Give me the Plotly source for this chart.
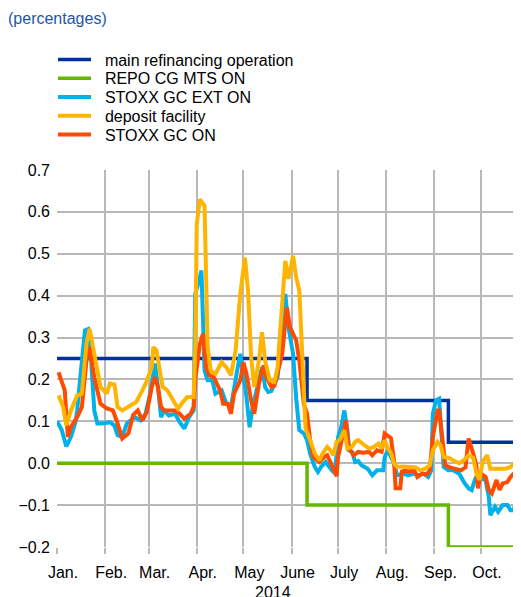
import plotly.graph_objects as go

# ---------------- data ----------------
month_ticks = ["2014-01-01", "2014-02-01", "2014-03-01", "2014-04-01", "2014-05-01",
               "2014-06-01", "2014-07-01", "2014-08-01", "2014-09-01", "2014-10-01"]
month_labels = ["Jan.", "Feb.", "Mar.", "Apr.", "May", "June", "July", "Aug.", "Sep.", "Oct."]
year_label = "2014"

policy_dates = ["2014-01-01", "2014-06-11", "2014-09-10", "2014-10-27"]
mro_rate = [0.25, 0.15, 0.05, 0.05]
repo_cg_mts = [0.0, -0.10, -0.20, -0.20]

stoxx_ext_dates = [
    "2014-01-01", "2014-01-04", "2014-01-07", "2014-01-10", "2014-01-13", "2014-01-14",
    "2014-01-16", "2014-01-19", "2014-01-21", "2014-01-23", "2014-01-25", "2014-01-27",
    "2014-01-30", "2014-02-04", "2014-02-07", "2014-02-09", "2014-02-12", "2014-02-15",
    "2014-02-20", "2014-02-24", "2014-02-27", "2014-03-02", "2014-03-04", "2014-03-05",
    "2014-03-07", "2014-03-09", "2014-03-11", "2014-03-14", "2014-03-18", "2014-03-21",
    "2014-03-24", "2014-03-27", "2014-03-30", "2014-03-31", "2014-04-03", "2014-04-04",
    "2014-04-06", "2014-04-08", "2014-04-11", "2014-04-13", "2014-04-17", "2014-04-20",
    "2014-04-23", "2014-04-25", "2014-04-27", "2014-04-29", "2014-05-01", "2014-05-03",
    "2014-05-05", "2014-05-07", "2014-05-11", "2014-05-13", "2014-05-15", "2014-05-17",
    "2014-05-19", "2014-05-23", "2014-05-25", "2014-05-28", "2014-05-30", "2014-06-02",
    "2014-06-04", "2014-06-06", "2014-06-09", "2014-06-11", "2014-06-13", "2014-06-16",
    "2014-06-18", "2014-06-20", "2014-06-23", "2014-06-25", "2014-06-27", "2014-06-29",
    "2014-07-01", "2014-07-03", "2014-07-05", "2014-07-07", "2014-07-08", "2014-07-10",
    "2014-07-12", "2014-07-14", "2014-07-16", "2014-07-20", "2014-07-23", "2014-07-26",
    "2014-07-30", "2014-07-31", "2014-08-02", "2014-08-04", "2014-08-06", "2014-08-08",
    "2014-08-12", "2014-08-15", "2014-08-19", "2014-08-22", "2014-08-25", "2014-08-28",
    "2014-08-30", "2014-08-31", "2014-09-02", "2014-09-04", "2014-09-05", "2014-09-07",
    "2014-09-10", "2014-09-13", "2014-09-17", "2014-09-20", "2014-09-23", "2014-09-25",
    "2014-09-27", "2014-09-29", "2014-09-30", "2014-10-04", "2014-10-06", "2014-10-07",
    "2014-10-10", "2014-10-12", "2014-10-15", "2014-10-18", "2014-10-20", "2014-10-22",
    "2014-10-24", "2014-10-25", "2014-10-27"]
stoxx_ext_values = [
    0.100, 0.080, 0.040, 0.063, 0.100, 0.126,
    0.205, 0.317, 0.320, 0.245, 0.126, 0.095,
    0.095, 0.098, 0.090, 0.067, 0.063, 0.095,
    0.110, 0.102, 0.118, 0.166, 0.213, 0.238,
    0.182, 0.110, 0.126, 0.114, 0.118, 0.098,
    0.083, 0.110, 0.126, 0.404, 0.444, 0.460,
    0.221, 0.198, 0.198, 0.166, 0.174, 0.142,
    0.134, 0.182, 0.221, 0.261, 0.213, 0.158,
    0.086, 0.134, 0.198, 0.229, 0.182, 0.170,
    0.172, 0.205, 0.309, 0.404, 0.325, 0.261,
    0.155, 0.079, 0.071, 0.055, 0.023, -0.009,
    -0.021, -0.009, 0.003, -0.009, -0.017, -0.024,
    0.063, 0.086, 0.126, 0.079, 0.031, 0.027,
    0.003, 0.005, -0.005, -0.013, -0.029, -0.017,
    -0.017, 0.015, 0.031, 0.015, 0.000, -0.029,
    -0.025, -0.029, -0.025, -0.029, -0.025, -0.033,
    -0.017, 0.118, 0.150, 0.154, 0.086, -0.009,
    -0.017, -0.017, -0.025, -0.045, -0.060, -0.064,
    -0.040, -0.025, -0.033, -0.041, -0.080, -0.124,
    -0.104, -0.116, -0.100, -0.100, -0.112, -0.112,
    -0.088, -0.056, -0.040]

stoxx_gc_dates = [
    "2014-01-02", "2014-01-06", "2014-01-08", "2014-01-10", "2014-01-14", "2014-01-17",
    "2014-01-20", "2014-01-22", "2014-01-25", "2014-01-29", "2014-02-02", "2014-02-06",
    "2014-02-09", "2014-02-12", "2014-02-16", "2014-02-19", "2014-02-22", "2014-02-25",
    "2014-02-28", "2014-03-03", "2014-03-05", "2014-03-07", "2014-03-09", "2014-03-11",
    "2014-03-15", "2014-03-18", "2014-03-21", "2014-03-24", "2014-03-28", "2014-03-30",
    "2014-03-31", "2014-04-03", "2014-04-05", "2014-04-07", "2014-04-09", "2014-04-12",
    "2014-04-16", "2014-04-18", "2014-04-21", "2014-04-23", "2014-04-25", "2014-04-29",
    "2014-05-01", "2014-05-03", "2014-05-06", "2014-05-08", "2014-05-11", "2014-05-14",
    "2014-05-16", "2014-05-19", "2014-05-21", "2014-05-24", "2014-05-26", "2014-05-29",
    "2014-05-31", "2014-06-04", "2014-06-06", "2014-06-08", "2014-06-09", "2014-06-11",
    "2014-06-13", "2014-06-15", "2014-06-19", "2014-06-22", "2014-06-24", "2014-06-26",
    "2014-06-28", "2014-06-30", "2014-07-01", "2014-07-04", "2014-07-06", "2014-07-08",
    "2014-07-11", "2014-07-14", "2014-07-17", "2014-07-21", "2014-07-23", "2014-07-26",
    "2014-07-29", "2014-07-31", "2014-08-04", "2014-08-06", "2014-08-07", "2014-08-10",
    "2014-08-11", "2014-08-13", "2014-08-15", "2014-08-19", "2014-08-21", "2014-08-24",
    "2014-08-27", "2014-08-29", "2014-08-31", "2014-09-03", "2014-09-04", "2014-09-06",
    "2014-09-08", "2014-09-11", "2014-09-14", "2014-09-18", "2014-09-21", "2014-09-23",
    "2014-09-26", "2014-09-28", "2014-09-29", "2014-10-01", "2014-10-04", "2014-10-06",
    "2014-10-08", "2014-10-11", "2014-10-13", "2014-10-15", "2014-10-18", "2014-10-20",
    "2014-10-23", "2014-10-27"]
stoxx_gc_values = [
    0.217, 0.174, 0.063, 0.087, 0.110, 0.134,
    0.245, 0.277, 0.205, 0.142, 0.131, 0.126,
    0.095, 0.059, 0.071, 0.115, 0.126, 0.102,
    0.124, 0.182, 0.205, 0.182, 0.134, 0.126,
    0.126, 0.126, 0.118, 0.106, 0.118, 0.134,
    0.198, 0.285, 0.309, 0.229, 0.210, 0.205,
    0.174, 0.142, 0.142, 0.118, 0.166, 0.198,
    0.241, 0.213, 0.150, 0.118, 0.190, 0.233,
    0.205, 0.182, 0.185, 0.229, 0.261, 0.372,
    0.325, 0.293, 0.245, 0.174, 0.140, 0.118,
    0.055, 0.015, 0.003, 0.015, 0.019, 0.003,
    -0.017, -0.031, 0.015, 0.071, 0.102, 0.035,
    0.019, 0.027, 0.025, 0.027, 0.019, 0.031,
    0.027, 0.071, 0.060, 0.007, -0.060, -0.060,
    -0.020, -0.017, -0.020, -0.017, -0.033, -0.025,
    -0.027, -0.017, 0.063, 0.126, 0.126, 0.063,
    -0.005, -0.010, -0.012, -0.017, -0.010, 0.059,
    0.023, -0.005, -0.060, -0.025, -0.033, -0.064,
    -0.072, -0.040, -0.064, -0.048, -0.045, -0.033,
    -0.021, -0.017]

deposit_dates = [
    "2014-01-02", "2014-01-05", "2014-01-07", "2014-01-10", "2014-01-14", "2014-01-17",
    "2014-01-20", "2014-01-22", "2014-01-25", "2014-01-29", "2014-02-02", "2014-02-04",
    "2014-02-07", "2014-02-09", "2014-02-12", "2014-02-16", "2014-02-19", "2014-02-21",
    "2014-02-25", "2014-02-28", "2014-03-03", "2014-03-04", "2014-03-06", "2014-03-08",
    "2014-03-10", "2014-03-13", "2014-03-17", "2014-03-20", "2014-03-23", "2014-03-26",
    "2014-03-30", "2014-03-31", "2014-04-01", "2014-04-03", "2014-04-06", "2014-04-07",
    "2014-04-08", "2014-04-10", "2014-04-13", "2014-04-17", "2014-04-20", "2014-04-23",
    "2014-04-26", "2014-04-29", "2014-05-02", "2014-05-04", "2014-05-06", "2014-05-08",
    "2014-05-11", "2014-05-13", "2014-05-15", "2014-05-18", "2014-05-21", "2014-05-23",
    "2014-05-25", "2014-05-28", "2014-05-30", "2014-06-02", "2014-06-04", "2014-06-06",
    "2014-06-08", "2014-06-10", "2014-06-13", "2014-06-16", "2014-06-19", "2014-06-21",
    "2014-06-24", "2014-06-26", "2014-06-28", "2014-06-30", "2014-07-02", "2014-07-05",
    "2014-07-07", "2014-07-10", "2014-07-12", "2014-07-14", "2014-07-18", "2014-07-21",
    "2014-07-24", "2014-07-27", "2014-07-29", "2014-07-31", "2014-08-02", "2014-08-04",
    "2014-08-06", "2014-08-08", "2014-08-12", "2014-08-17", "2014-08-20", "2014-08-23",
    "2014-08-26", "2014-08-29", "2014-08-31", "2014-09-03", "2014-09-05", "2014-09-07",
    "2014-09-10", "2014-09-13", "2014-09-17", "2014-09-20", "2014-09-23", "2014-09-26",
    "2014-09-28", "2014-09-30", "2014-10-02", "2014-10-05", "2014-10-07", "2014-10-10",
    "2014-10-13", "2014-10-17", "2014-10-20", "2014-10-23", "2014-10-27"]
deposit_values = [
    0.162, 0.134, 0.090, 0.126, 0.162, 0.166,
    0.285, 0.321, 0.261, 0.182, 0.166, 0.190,
    0.188, 0.134, 0.126, 0.134, 0.142, 0.146,
    0.174, 0.198, 0.229, 0.277, 0.270, 0.221,
    0.182, 0.174, 0.146, 0.130, 0.146, 0.158,
    0.158, 0.277, 0.571, 0.630, 0.614, 0.400,
    0.277, 0.221, 0.213, 0.241, 0.229, 0.210,
    0.269, 0.404, 0.491, 0.412, 0.253, 0.182,
    0.245, 0.313, 0.245, 0.198, 0.194, 0.229,
    0.333, 0.483, 0.440, 0.495, 0.444, 0.412,
    0.253, 0.083, 0.055, 0.023, 0.007, 0.023,
    0.039, 0.031, 0.019, 0.051, 0.055, 0.079,
    0.035, 0.039, 0.051, 0.055, 0.043, 0.035,
    0.039, 0.047, 0.035, 0.055, 0.035, 0.025,
    0.000, -0.009, -0.008, -0.008, -0.010, -0.017,
    -0.013, -0.005, 0.031, 0.051, 0.043, 0.015,
    0.013, 0.007, 0.000, 0.007, 0.019, 0.013,
    -0.025, -0.040, 0.003, 0.019, -0.013, -0.013,
    -0.012, -0.013, -0.009, 0.003, 0.015]

# ---------------- styling ----------------
FONT = "Liberation Sans, Arial, sans-serif"
C_MRO = "#003399"
C_GREEN = "#65b800"
C_CYAN = "#00b1ea"
C_ORANGE = "#ffb400"
C_RED = "#ff4b00"
GAP = "\u00a0\u00a0"  # extra space between legend line and label

fig = go.Figure()

# drawing order (bottom -> top): MRO, green, cyan, red, orange
fig.add_trace(go.Scatter(x=policy_dates, y=mro_rate, mode="lines", line_shape="hv",
                         line=dict(color=C_MRO, width=3.5),
                         name=GAP + "main refinancing operation", legend="legend"))
fig.add_trace(go.Scatter(x=policy_dates, y=repo_cg_mts, mode="lines", line_shape="hv",
                         line=dict(color=C_GREEN, width=3.5),
                         name=GAP + "REPO CG MTS ON", legend="legend2"))
fig.add_trace(go.Scatter(x=stoxx_ext_dates, y=stoxx_ext_values, mode="lines",
                         line=dict(color=C_CYAN, width=4),
                         name=GAP + "STOXX GC EXT ON", legend="legend3"))
fig.add_trace(go.Scatter(x=stoxx_gc_dates, y=stoxx_gc_values, mode="lines",
                         line=dict(color=C_RED, width=4),
                         name=GAP + "STOXX GC ON", legend="legend5"))
fig.add_trace(go.Scatter(x=deposit_dates, y=deposit_values, mode="lines",
                         line=dict(color=C_ORANGE, width=4),
                         name=GAP + "deposit facility", legend="legend4"))

# the page adds an 8px body margin, so the figure is 8px smaller than the window
W, H = 513, 589
legend_centers_px = [51.5, 70.3, 89.1, 107.9, 126.7]
legend_common = dict(xref="container", yref="container", x=45 / W, xanchor="left",
                     yanchor="middle", bgcolor="rgba(0,0,0,0)", borderwidth=0,
                     itemwidth=33, font=dict(family=FONT, size=16, color="#000000"))
legends = {}
for i, yc in enumerate(legend_centers_px):
    key = "legend" if i == 0 else f"legend{i + 1}"
    legends[key] = dict(legend_common, y=1 - yc / H)

grid_col = "#b8b8b8"
fig.update_layout(
    width=W, height=H,
    margin=dict(l=49, r=0, t=162, b=50, autoexpand=False),
    paper_bgcolor="white", plot_bgcolor="white",
    font=dict(family=FONT, size=16, color="#000000"),
    showlegend=True,
    title=dict(text="(percentages)", xref="container", yref="container",
               x=0, xanchor="left", y=1 - 10 / H, yanchor="middle",
               font=dict(family=FONT, size=16, color="#2356a6")),
    xaxis=dict(type="date", range=["2014-01-01", "2014-10-26 18:00"],
               tickvals=month_ticks, ticktext=month_labels, tickangle=0,
               showgrid=True, gridcolor=grid_col, gridwidth=1.5,
               ticks="outside", ticklen=6, tickcolor=grid_col, tickwidth=1.5,
               ticklabelshift=6, ticklabelstandoff=5,
               showline=False, zeroline=False,
               tickfont=dict(family=FONT, size=16, color="#000000")),
    yaxis=dict(range=[-0.2, 0.7], dtick=0.1, tick0=0, tickformat=".1f",
               showgrid=True, gridcolor=grid_col, gridwidth=1.5,
               zeroline=False, showline=False, ticks="",
               ticklabelstandoff=6,
               tickfont=dict(family=FONT, size=16, color="#000000")),
    annotations=[dict(text=year_label, xref="paper", yref="paper",
                      x=(265 - 49) / 464, y=-(584 - 539) / 377,
                      xanchor="center", yanchor="middle", showarrow=False,
                      font=dict(family=FONT, size=16, color="#000000"))],
    **legends,
)

fig.write_html("out.html")
